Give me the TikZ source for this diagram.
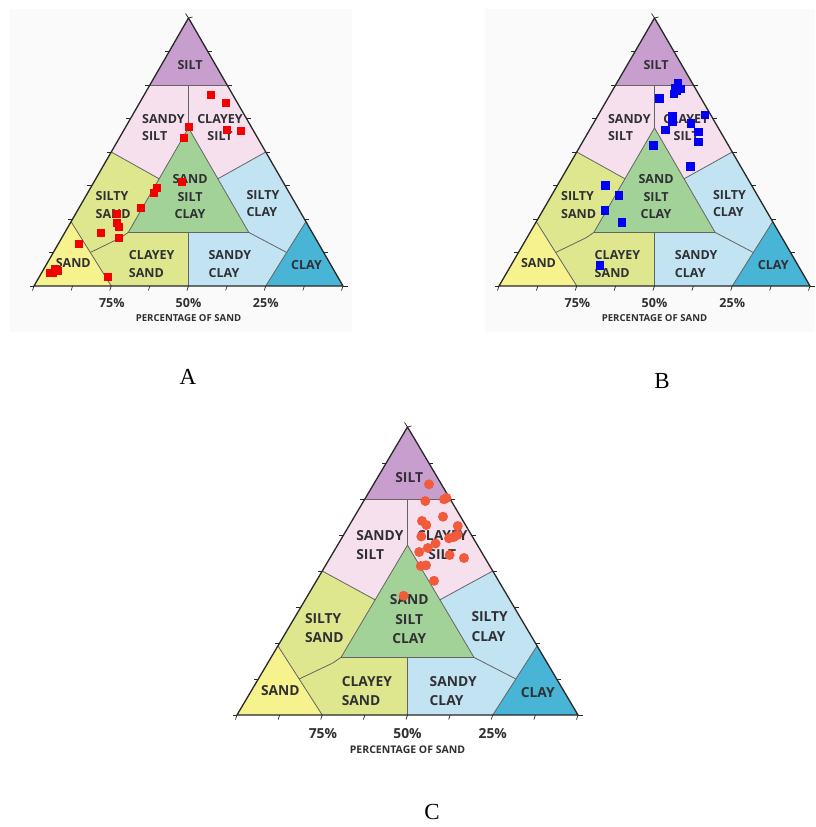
\documentclass[tikz,border=0pt]{standalone}
\usepackage{fontspec}
\setmainfont{Liberation Serif}
\newfontfamily\labfont{Open Sans}
\definecolor{siltc}{RGB}{200,158,206}
\definecolor{pinkc}{RGB}{246,224,237}
\definecolor{ygc}{RGB}{222,231,142}
\definecolor{sandc}{RGB}{246,243,142}
\definecolor{sscc}{RGB}{162,210,152}
\definecolor{lbc}{RGB}{194,227,241}
\definecolor{clayc}{RGB}{72,180,214}
\definecolor{edgec}{RGB}{40,40,40}
\definecolor{linec}{RGB}{100,100,100}
\definecolor{txtc}{RGB}{48,48,52}
\definecolor{panelbg}{RGB}{250,250,250}
\definecolor{dotc}{RGB}{242,90,60}
\tikzset{
  bnd/.style={draw=linec,line width=0.8pt},
  outeredge/.style={draw=edgec,line width=1.3pt,line join=round},
  tickmark/.style={draw=edgec,line width=0.7pt},
  sqA/.style={fill={rgb,255:red,245;green,0;blue,0}},
  sqB/.style={fill={rgb,255:red,0;green,0;blue,245}},
  dotC/.style={fill=dotc},
  panellabel/.style={font=\fontsize{23}{26}\selectfont,inner sep=0pt},
}
% #1 prefix, #2 font size, #3 baseline skip, #4 small font size
\newcommand\soilmap[4]{%
  \tikzset{lab/.style={font=\labfont\bfseries\fontsize{#2}{#3}\selectfont,text=txtc,inner sep=0pt}}
  \fill[siltc] (0.375,0.75) -- (0.5,1) -- (0.625,0.75) -- cycle;
  \fill[pinkc] (0.25,0.5) -- (0.375,0.75) -- (0.625,0.75) -- (0.75,0.5) -- (0.595,0.4) -- (0.5,0.59) -- (0.405,0.4) -- cycle;
  \fill[ygc] (0.12,0.24) -- (0.25,0.5) -- (0.405,0.4) -- (0.305,0.2) -- (0.5,0.2) -- (0.5,0) -- (0.25,0) -- cycle;
  \fill[sandc] (0,0) -- (0.12,0.24) -- (0.25,0) -- cycle;
  \fill[sscc] (0.305,0.2) -- (0.695,0.2) -- (0.5,0.59) -- cycle;
  \fill[lbc] (0.5,0) -- (0.5,0.2) -- (0.695,0.2) -- (0.595,0.4) -- (0.75,0.5) -- (0.88,0.24) -- (0.75,0) -- cycle;
  \fill[clayc] (0.75,0) -- (1,0) -- (0.88,0.24) -- cycle;
  \draw[bnd] (0.375,0.75) -- (0.625,0.75);
  \draw[bnd] (0.5,0.75) -- (0.5,0.59);
  \draw[bnd] (0.305,0.2) -- (0.695,0.2) -- (0.5,0.59) -- cycle;
  \draw[bnd] (0.25,0.5) -- (0.405,0.4);
  \draw[bnd] (0.75,0.5) -- (0.595,0.4);
  \draw[bnd] (0.12,0.24) -- (0.25,0);
  \draw[bnd] (0.182,0.125) -- (0.28,0.18) -- (0.305,0.2);
  \draw[bnd] (0.5,0.2) -- (0.5,0);
  \draw[bnd] (0.695,0.2) -- (0.818,0.125);
  \draw[bnd] (0.88,0.24) -- (0.75,0);
  \foreach \i in {0,...,8}{
    \draw[tickmark] (\i/8,0) -- ++(-1.5pt,-4.5pt);
  }
  \foreach \i in {0,...,7}{
    \draw[tickmark] (\i/16,\i/8) -- ++(-4.5pt,0pt);
    \draw[tickmark] (1-\i/16,\i/8) -- ++(4.5pt,0pt);
  }
  \draw[tickmark] (0.5,1) -- ++(-3pt,4.5pt);
  \draw[tickmark] (0.5,1) -- ++(4pt,1pt);
  \draw[outeredge] (0,0) -- (1,0) -- (0.5,1) -- cycle;
  \node[lab] (#1silt) at (0.505,0.825) {SILT};
  \node[lab,align=left] (#1sandysilt) at (0.419,0.591) {SANDY\\SILT};
  \node[lab,align=center] (#1clayeysilt) at (0.602,0.591) {CLAYEY\\SILT};
  \node[lab,align=center] (#1ssc) at (0.505,0.333) {SAND\\SILT\\CLAY};
  \node[lab,align=left] (#1siltysand) at (0.256,0.303) {SILTY\\SAND};
  \node[lab,align=left] (#1siltyclay) at (0.741,0.307) {SILTY\\CLAY};
  \node[lab] (#1sand) at (0.127,0.085) {SAND};
  \node[lab,align=left] (#1clayeysand) at (0.381,0.082) {CLAYEY\\SAND};
  \node[lab,align=left] (#1sandyclay) at (0.634,0.082) {SANDY\\CLAY};
  \node[lab] (#1clay) at (0.882,0.078) {CLAY};
  \node[lab] (#1pa) at (0.252,-0.063) {75\%};
  \node[lab] (#1pb) at (0.5,-0.063) {50\%};
  \node[lab] (#1pc) at (0.75,-0.063) {25\%};
  \node[lab,font=\labfont\bfseries\fontsize{#4}{#4}\selectfont] (#1axis) at (0.5,-0.12) {PERCENTAGE OF SAND};
}
\begin{document}
\begin{tikzpicture}[x=1pt,y=-1pt]
\useasboundingbox (0,0) rectangle (815,827);
\fill[white] (0,0) rectangle (815,827);
\fill[panelbg] (10,9) rectangle (352,332);
\fill[panelbg] (485,9) rectangle (815,332);
% Panel A
\begin{scope}[shift={(34,286)},x={(309pt,0pt)},y={(0pt,268pt)}]
  \soilmap{a}{12.5}{17.5}{9.6}
\end{scope}
% Panel B
\begin{scope}[shift={(499,286)},x={(311pt,0pt)},y={(0pt,268pt)}]
  \soilmap{b}{12.5}{17.5}{9.6}
\end{scope}
% Panel C
\begin{scope}[shift={(237,715)},x={(341pt,0pt)},y={(0pt,288pt)}]
  \soilmap{c}{13.8}{19.3}{10.5}
\end{scope}
% data A
\foreach \p in {(211,95),(225.7,102.7),(189.3,127),(227.3,129.7),(241.3,130.7),(184.3,137.7),(181.7,181.7),(156.7,188.3),(154.3,192.7),(140.5,208.3),(117.3,213.5),(116.7,222.7),(119.3,227),(101,233.3),(118.7,238),(79,244.3),(55,269.3),(58.3,271),(53.3,272.7),(50,273.3),(107.7,277.3)}
  \fill[sqA] \p +(-4,-4) rectangle +(4,4);
% data B
\foreach \p in {(678,83),(675,88),(681,89),(674,94),(677,91),(659.3,98.3),(672.7,116.7),(672.7,121.7),(705,115),(691,123.7),(665.3,130),(698.3,132),(698.3,142),(653.7,145.2),(690.5,166.5),(605.3,185.2),(619,195.7),(605,210.7),(622,222.3),(600,265.7)}
  \fill[sqB] \p +(-4.3,-4.3) rectangle +(4.3,4.3);
% data C
\foreach \p in {(429,484.3),(425.3,501),(444,499.3),(446.5,498),(443,516.7),(422,521),(426.3,525),(457.8,526),(421.3,536.5),(449,538.3),(453.8,537),(457.5,535),(435.5,543.5),(427.8,548),(419.2,552),(449.6,555),(464,558),(420.8,566),(426,565.3),(434,580.8),(403.6,595.8)}
  \fill[dotC] \p circle (5);
\node[panellabel] (labA) at (188,377) {A};
\node[panellabel] (labB) at (662,381) {B};
\node[panellabel] (labC) at (432,812) {C};
\end{tikzpicture}
\end{document}
